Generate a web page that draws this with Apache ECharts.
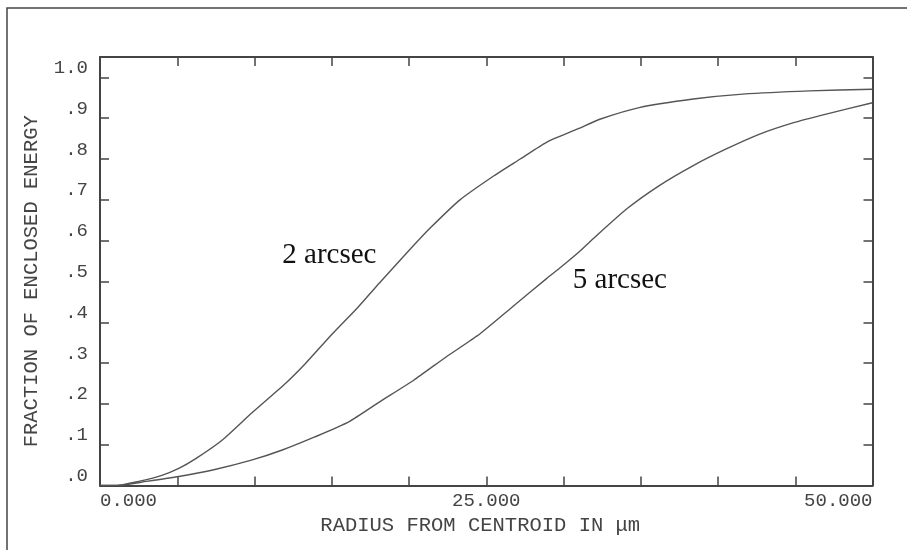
<!DOCTYPE html>
<html>
<head>
<meta charset="utf-8">
<script src="https://cdn.jsdelivr.net/npm/echarts@6/dist/echarts.min.js"></script>
<style>
html,body{margin:0;padding:0;background:#fff;}
#chart{width:907px;height:550px;}
</style>
</head>
<body>
<div id="chart"></div>
<script>
// ---- data ----
const radius2 = [0, 1.1, 2.5, 4.0, 5.1, 6.2, 7.9, 9.8, 12.0, 13.3, 15.0, 16.7, 18.1, 20.1, 21.4, 23.3, 25.5, 27.2, 28.9, 31.0, 32.4, 34.9, 38.4, 41.6, 45.9, 50.0];
const energy2 = [0, 0, 0.010, 0.025, 0.042, 0.066, 0.111, 0.177, 0.250, 0.299, 0.370, 0.437, 0.497, 0.580, 0.632, 0.700, 0.759, 0.800, 0.841, 0.875, 0.898, 0.926, 0.947, 0.959, 0.967, 0.971];
const radius5 = [0, 1.1, 3.0, 5.1, 7.3, 9.8, 11.8, 13.9, 16.1, 18.1, 20.3, 22.4, 24.6, 26.8, 28.9, 29.8, 31.0, 31.9, 34.1, 36.2, 38.4, 40.5, 42.7, 44.9, 47.0, 50.0];
const energy5 = [0, 0, 0.010, 0.022, 0.038, 0.062, 0.087, 0.119, 0.156, 0.205, 0.258, 0.315, 0.372, 0.441, 0.507, 0.534, 0.572, 0.604, 0.678, 0.735, 0.784, 0.824, 0.861, 0.889, 0.910, 0.938];
const seriesNames = ['2 arcsec', '5 arcsec'];
const xTickLabels = ['0.000', '25.000', '50.000'];
const yTickLabels = ['.0', '.1', '.2', '.3', '.4', '.5', '.6', '.7', '.8', '.9', '1.0'];
const xAxisTitle = 'RADIUS FROM CENTROID IN μm';
const yAxisTitle = 'FRACTION OF ENCLOSED ENERGY';

const pair = (xs, ys) => xs.map((x, i) => [x, ys[i]]);

const ink = '#444';
const monoFont = '"Liberation Mono", "DejaVu Sans Mono", monospace';

const axisLineStyle = { onZero: false, lineStyle: { color: ink, width: 2 } };
const tickStyle = { show: true, inside: true, length: 9, lineStyle: { color: ink, width: 1.5 } };

const chart = echarts.init(document.getElementById('chart'), null, { renderer: 'canvas' });
chart.setOption({
  animation: false,
  backgroundColor: '#fff',
  graphic: [{
    type: 'rect',
    shape: { x: 7, y: 8, width: 1200, height: 900 },
    style: { fill: 'none', stroke: ink, lineWidth: 1.5 },
    silent: true
  }],
  grid: { left: 100, right: 34.5, top: 57, bottom: 64.5, containLabel: false },
  xAxis: [{
    type: 'value', min: 0, max: 50, interval: 5,
    position: 'bottom',
    axisLine: axisLineStyle,
    axisTick: tickStyle,
    splitLine: { show: false },
    axisLabel: {
      color: ink, fontFamily: monoFont, fontSize: 19, margin: 6,
      alignMinLabel: 'left', alignMaxLabel: 'right',
      formatter: v => (Math.abs(v % 25) < 1e-6 ? xTickLabels[Math.round(v / 25)] : '')
    },
    name: xAxisTitle, nameLocation: 'middle', nameGap: 23,
    nameTextStyle: { color: ink, fontFamily: monoFont, fontSize: 20.5, padding: [0, 12, 0, 0] }
  }, {
    type: 'value', min: 0, max: 50, interval: 5,
    position: 'top',
    axisLine: axisLineStyle,
    axisTick: tickStyle,
    axisLabel: { show: false },
    splitLine: { show: false }
  }],
  yAxis: [{
    type: 'value', min: 0, max: 1.05, interval: 0.1,
    position: 'left',
    axisLine: axisLineStyle,
    axisTick: tickStyle,
    splitLine: { show: false },
    axisLabel: {
      color: ink, fontFamily: monoFont, fontSize: 19, margin: 12,
      verticalAlign: 'bottom',
      formatter: v => (v > 1.001 ? '' : yTickLabels[Math.round(v * 10)])
    },
    name: yAxisTitle, nameLocation: 'middle', nameGap: 58,
    nameTextStyle: { color: ink, fontFamily: monoFont, fontSize: 20.5, padding: [0, 20, 0, 0] }
  }, {
    type: 'value', min: 0, max: 1.05, interval: 0.1,
    position: 'right',
    axisLine: axisLineStyle,
    axisTick: tickStyle,
    axisLabel: { show: false },
    splitLine: { show: false }
  }],
  series: [{
    name: seriesNames[0],
    type: 'line',
    data: pair(radius2, energy2),
    smooth: 0.2,
    showSymbol: false,
    lineStyle: { color: '#555', width: 1.4 },
    markPoint: {
      symbol: 'circle', symbolSize: 0,
      label: {
        show: true, position: 'right', distance: 0,
        formatter: seriesNames[0],
        fontFamily: '"Liberation Serif", "Times New Roman", serif',
        fontSize: 29, color: '#111'
      },
      data: [{ coord: [11.8, 0.564] }]
    }
  }, {
    name: seriesNames[1],
    type: 'line',
    data: pair(radius5, energy5),
    smooth: 0.2,
    showSymbol: false,
    lineStyle: { color: '#555', width: 1.4 },
    markPoint: {
      symbol: 'circle', symbolSize: 0,
      label: {
        show: true, position: 'right', distance: 0,
        formatter: seriesNames[1],
        fontFamily: '"Liberation Serif", "Times New Roman", serif',
        fontSize: 29, color: '#111'
      },
      data: [{ coord: [30.6, 0.502] }]
    }
  }]
});
</script>
</body>
</html>
